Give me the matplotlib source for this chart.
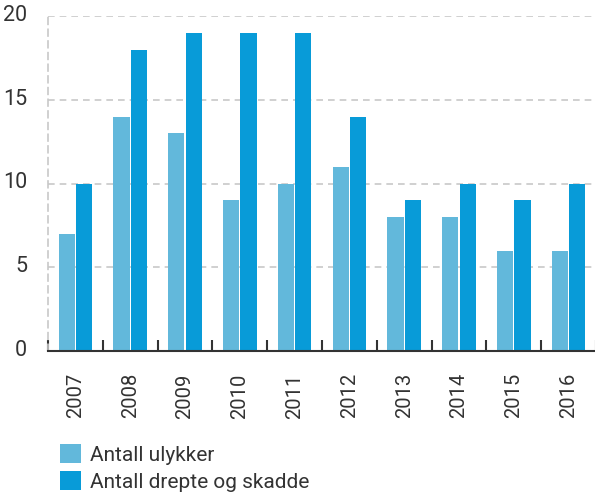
import matplotlib.pyplot as plt
import matplotlib.transforms as mtransforms
import numpy as np

years = ['2007', '2008', '2009', '2010', '2011', '2012', '2013', '2014', '2015', '2016']
ulykker = [7, 14, 13, 9, 10, 11, 8, 8, 6, 6]
drepte_skadde = [10, 18, 19, 19, 19, 14, 9, 10, 9, 10]

light = '#62b8db'
dark = '#089bd8'
txt = '#333333'

plt.rcParams['font.family'] = ['Roboto', 'DejaVu Sans']

fig = plt.figure(figsize=(5.95, 4.93), dpi=100)
ax = fig.add_axes([48 / 595, (493 - 351) / 493, 548 / 595, (351 - 16) / 493])

x = np.arange(len(years))
w = 0.295
ax.bar(x - w / 2 - 0.01, ulykker, w, color=light, label='Antall ulykker', zorder=3)
ax.bar(x + w / 2 + 0.01, drepte_skadde, w, color=dark, label='Antall drepte og skadde', zorder=3)

ax.set_xlim(-0.5, len(years) - 0.5)
ax.set_ylim(0, 20)
ax.set_yticks([0, 5, 10, 15, 20])
ax.yaxis.grid(True, color='#c8c8c8', linestyle=(0, (4, 3)), linewidth=1.2, zorder=0)
ax.tick_params(axis='y', length=0, pad=15, labelsize=15.5, labelcolor=txt)
# nudge the y labels a little upward, as in the original
shift = mtransforms.ScaledTranslation(0, 3 / 100, fig.dpi_scale_trans)
for lbl in ax.get_yticklabels():
    lbl.set_transform(lbl.get_transform() + shift)

ax.set_xticks(x)
ax.set_xticklabels(years, rotation=90, fontsize=14.5, color=txt)
ax.set_xticks(np.arange(-0.5, len(years), 1), minor=True)
ax.tick_params(axis='x', which='major', length=0, pad=16)
ax.tick_params(axis='x', which='minor', length=8, direction='in', width=1.5, color='#333333')

for s in ['top', 'right']:
    ax.spines[s].set_visible(False)
ax.spines['left'].set_color('#c8c8c8')
ax.spines['left'].set_linestyle((0, (4, 3)))
ax.spines['left'].set_linewidth(1.2)
ax.spines['bottom'].set_color('#333333')
ax.spines['bottom'].set_linewidth(1.5)
ax.spines['bottom'].set_zorder(4)

leg = fig.legend(loc='upper left', bbox_to_anchor=(52 / 595, 1 - 436 / 493), frameon=False,
                 fontsize=15, handlelength=1.0, handleheight=1.0, handletextpad=0.4,
                 labelspacing=0.3, borderaxespad=0)
for t in leg.get_texts():
    t.set_color(txt)

fig.savefig('out.png', dpi=100)
